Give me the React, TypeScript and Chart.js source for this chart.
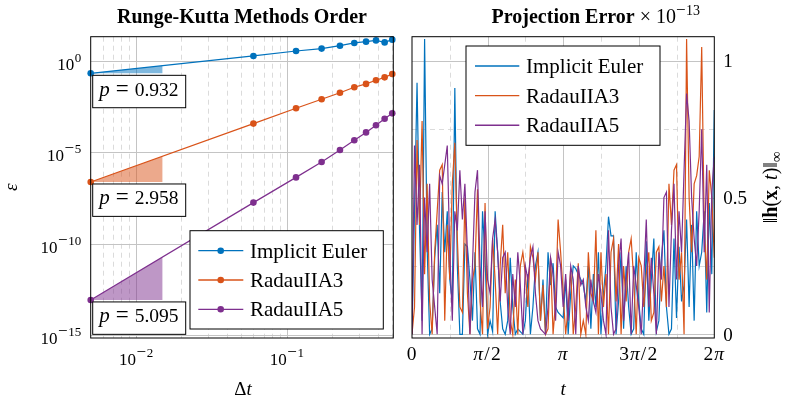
import React, { useEffect, useRef } from "react";
import { Chart, registerables } from "chart.js";

Chart.register(...registerables);

// ---------- Left panel data (log-log convergence) ----------
const stepSizes = [0.005, 0.06, 0.115, 0.17, 0.225, 0.28, 0.335, 0.39, 0.445, 0.5];
const eulerError = [0.204, 1.82, 3.39, 4.57, 6.61, 9.33, 11.0, 12.9, 10.0, 14.1];
const radau3Error = [2.34e-7, 3.63e-4, 2.51e-3, 7.76e-3, 1.78e-2, 3.55e-2, 5.37e-2, 8.51e-2, 0.123, 0.186];
const radau5Error = [8.32e-14, 1.74e-8, 4.17e-7, 2.88e-6, 1.32e-5, 4.47e-5, 1.2e-4, 2.95e-4, 6.76e-4, 1.32e-3];
const orderEstimates = [0.932, 2.958, 5.095];
const slopeTriangleEnd = 0.015;
const leftYTickExps = [0, -5, -10, -15];
const leftXTickExps = [-2, -1];
const methodNames = ["Implicit Euler", "RadauIIA3", "RadauIIA5"];

// ---------- Right panel data (projection error, x 1e-13) ----------
const eulerProj = [
  0.0, 0.45, 0.92, 0.38, 0.05, 1.08, 0.32, 0.0, 0.02, 0.28,
  0.4, 0.15, 0.52, 0.3, 0.45, 0.2, 0.12, 0.9, 0.25, 0.0,
  0.0, 0.33, 0.32, 0.2, 0.05, 0.3, 0.02, 0.0, 0.45, 0.28,
  0.0, 0.05, 0.01, 0.45, 0.3, 0.12, 0.02, 0.0, 0.05, 0.28,
  0.1, 0.0, 0.02, 0.01, 0.0, 0.05, 0.22, 0.0, 0.1, 0.25,
  0.3, 0.05, 0.2, 0.0, 0.3, 0.18, 0.26, 0.1, 0.08, 0.07,
  0.06, 0.2, 0.0, 0.15, 0.25, 0.24, 0.22, 0.2, 0.18, 0.12,
  0.25, 0.02, 0.22, 0.1, 0.3, 0.0, 0.15, 0.25, 0.43, 0.36,
  0.36, 0.0, 0.12, 0.3, 0.02, 0.25, 0.1, 0.0, 0.02, 0.3,
  0.12, 0.02, 0.0, 0.34, 0.05, 0.2, 0.35, 0.01, 0.05, 0.28,
  0.38, 0.1, 0.0, 0.02, 0.35, 0.06, 0.32, 0.12, 0.18, 0.42,
  0.1, 0.4, 0.05, 0.45, 0.25, 0.3, 0.45, 0.08, 0.48, 0.22,
  0.82,
];
const radau3Proj = [
  0.0, 0.1, 0.71, 0.4, 0.78, 0.22, 0.55, 0.12, 0.0, 0.3,
  0.45, 0.6, 0.62, 0.05, 0.4, 0.2, 0.55, 0.7, 0.35, 0.1,
  0.08, 0.5, 0.15, 0.0, 0.2, 0.25, 0.53, 0.12, 0.0, 0.48,
  0.02, 0.1, 0.35, 0.2, 0.0, 0.25, 0.4, 0.15, 0.3, 0.05,
  0.0, 0.2, 0.0, 0.25, 0.3, 0.22, 0.1, 0.32, 0.28, 0.2,
  0.3, 0.05, 0.18, 0.0, 0.02, 0.28, 0.0, 0.12, 0.42, 0.3,
  0.15, 0.0, 0.1, 0.24, 0.0, 0.1, 0.26, 0.0, 0.05, 0.0,
  0.3, 0.15, 0.12, 0.38, 0.0, 0.3, 0.1, 0.22, 0.0, 0.3,
  0.35, 0.12, 0.33, 0.0, 0.25, 0.12, 0.3, 0.35, 0.2, 0.0,
  0.28, 0.25, 0.1, 0.22, 0.3, 0.05, 0.08, 0.3, 0.32, 0.12,
  0.25, 0.1, 0.55, 0.4, 0.6, 0.62, 0.2, 0.3, 0.0, 1.08,
  0.5, 0.3, 0.55, 0.58, 0.65, 1.05, 0.4, 0.2, 0.6, 0.5,
  0.28,
];
const radau5Proj = [
  0.0, 0.69, 0.4, 0.62, 0.0, 0.5, 0.3, 0.55, 0.2, 0.1,
  0.0, 0.58, 0.55, 0.62, 0.69, 0.3, 0.05, 0.45, 0.38, 0.6,
  0.42, 0.55, 0.3, 0.0, 0.25, 0.52, 0.6, 0.25, 0.1, 0.45,
  0.2, 0.15, 0.35, 0.42, 0.3, 0.12, 0.28, 0.3, 0.1, 0.0,
  0.22, 0.1, 0.3, 0.18, 0.0, 0.25, 0.2, 0.28, 0.32, 0.15,
  0.05, 0.02, 0.01, 0.0, 0.1, 0.28, 0.22, 0.05, 0.3, 0.25,
  0.1, 0.22, 0.05, 0.25, 0.2, 0.0, 0.25, 0.18, 0.2, 0.1,
  0.05, 0.2, 0.12, 0.08, 0.22, 0.15, 0.05, 0.0, 0.38, 0.1,
  0.0, 0.02, 0.25, 0.35, 0.05, 0.2, 0.3, 0.0, 0.25, 0.18,
  0.1, 0.0, 0.2, 0.42, 0.1, 0.28, 0.15, 0.0, 0.3, 0.2,
  0.5, 0.52, 0.1, 0.38, 0.55, 0.2, 0.45, 0.3, 0.6, 0.88,
  0.78, 0.5, 0.35, 0.25, 0.45, 0.75, 0.3, 0.62, 0.08, 0.52,
  0.65,
];
const rightXTickValues = [0, Math.PI / 2, Math.PI, (3 * Math.PI) / 2, 2 * Math.PI];
const rightXTickLabels = ["0", "π/2", "π", "3π/2", "2π"];
const rightXMinor = [Math.PI / 4, (3 * Math.PI) / 4, (5 * Math.PI) / 4, (7 * Math.PI) / 4];
const rightYTickValues = [0, 0.5, 1];
const rightYTickLabels = ["0", "0.5", "1"];
const rightYMinor = [0.25, 0.75];

// ---------- styles ----------
const COLORS = ["#0072BD", "#D95319", "#7E2F8E"];
const FILLS = ["rgba(0,114,189,0.5)", "rgba(217,83,25,0.5)", "rgba(126,47,142,0.5)"];
const SERIF = '"Liberation Serif", "DejaVu Serif", serif';
const f = (size: number, style = "") => `${style} ${size}px ${SERIF}`.trim();
const MAJOR_GRID = "#c4c4c4";
const MINOR_GRID = "#d2d2d2";

type Run = { t: string; f: string; dy?: number; gap?: number };

function drawRuns(ctx: CanvasRenderingContext2D, runs: Run[], x: number, y: number, align: "left" | "center" | "right") {
  let w = 0;
  for (const r of runs) {
    ctx.font = r.f;
    w += ctx.measureText(r.t).width + (r.gap || 0);
  }
  let cx = align === "left" ? x : align === "center" ? x - w / 2 : x - w;
  ctx.textAlign = "left";
  ctx.textBaseline = "alphabetic";
  for (const r of runs) {
    ctx.font = r.f;
    ctx.fillText(r.t, cx, y + (r.dy || 0));
    cx += ctx.measureText(r.t).width + (r.gap || 0);
  }
}

function powRuns(exp: number): Run[] {
  const runs: Run[] = [{ t: "10", f: f(17), gap: 0.5 }];
  if (exp < 0) runs.push({ t: "−", f: f(17), dy: -8, gap: 0.5 });
  runs.push({ t: String(Math.abs(exp)), f: f(13), dy: -8 });
  return runs;
}

function piRuns(label: string, size: number): Run[] {
  const runs: Run[] = [];
  for (const ch of label) {
    runs.push({ t: ch, f: ch === "π" ? f(size, "italic") : f(size), gap: ch === "/" ? 1.5 : 1 });
  }
  return runs;
}

function vline(ctx: CanvasRenderingContext2D, x: number, y0: number, y1: number) {
  ctx.beginPath();
  ctx.moveTo(x, y0);
  ctx.lineTo(x, y1);
  ctx.stroke();
}
function hline(ctx: CanvasRenderingContext2D, y: number, x0: number, x1: number) {
  ctx.beginPath();
  ctx.moveTo(x0, y);
  ctx.lineTo(x1, y);
  ctx.stroke();
}

const leftSeries = [eulerError, radau3Error, radau5Error];

function triangleTop(data: number[]) {
  const lx0 = Math.log10(stepSizes[0]);
  const lx1 = Math.log10(stepSizes[1]);
  const ly0 = Math.log10(data[0]);
  const ly1 = Math.log10(data[1]);
  const t = (Math.log10(slopeTriangleEnd) - lx0) / (lx1 - lx0);
  return Math.pow(10, ly0 + (ly1 - ly0) * t);
}

const leftPlugin = {
  id: "leftDecor",
  beforeDatasetsDraw(chart: any) {
    const { ctx, chartArea: a, scales } = chart;
    const x = scales.x;
    const y = scales.y;
    ctx.save();
    ctx.lineWidth = 0.8;
    ctx.strokeStyle = MINOR_GRID;
    ctx.setLineDash([5, 4]);
    for (let d = -3; d <= -1; d++) {
      for (let m = 2; m <= 9; m++) {
        const v = m * Math.pow(10, d);
        if (v <= x.min || v >= x.max) continue;
        vline(ctx, Math.round(x.getPixelForValue(v)) + 0.5, a.top, a.bottom);
      }
    }
    ctx.setLineDash([]);
    ctx.strokeStyle = MAJOR_GRID;
    ctx.lineWidth = 1;
    for (const e of leftXTickExps) {
      vline(ctx, Math.round(x.getPixelForValue(Math.pow(10, e))) + 0.5, a.top, a.bottom);
    }
    for (const e of leftYTickExps) {
      hline(ctx, Math.round(y.getPixelForValue(Math.pow(10, e))) + 0.5, a.left, a.right);
    }
    ctx.restore();
  },
  afterDatasetsDraw(chart: any) {
    const { ctx, chartArea: a, scales } = chart;
    const x = scales.x;
    const y = scales.y;
    ctx.save();
    ctx.strokeStyle = "#000";
    ctx.lineWidth = 1;
    ctx.strokeRect(a.left, a.top, a.right - a.left, a.bottom - a.top);

    // order boxes
    leftSeries.forEach((data, i) => {
      const py = y.getPixelForValue(data[0]);
      const bx = a.left + 2;
      const by = py + 2;
      ctx.fillStyle = "#fff";
      ctx.fillRect(bx, by, 93, 32.4);
      ctx.strokeStyle = "#000";
      ctx.lineWidth = 1;
      ctx.strokeRect(bx, by, 93, 32.4);
      ctx.fillStyle = "#000";
      const base = by + 20.5;
      ctx.textAlign = "left";
      ctx.textBaseline = "alphabetic";
      ctx.font = f(21, "italic");
      ctx.fillText("p", bx + 6.5, base);
      ctx.font = f(23);
      ctx.fillText("=", bx + 23, base);
      ctx.font = f(19.5);
      ctx.fillText(orderEstimates[i].toFixed(3), bx + 42, base);
    });

    // legend
    const lw = 193.3;
    const lh = 98.3;
    const lx = a.right - 10 - lw;
    const ly = a.bottom - 9 - lh;
    ctx.fillStyle = "#fff";
    ctx.fillRect(lx, ly, lw, lh);
    ctx.strokeStyle = "#000";
    ctx.lineWidth = 1;
    ctx.strokeRect(lx, ly, lw, lh);
    methodNames.forEach((name, i) => {
      const ry = ly + 20 + i * 29.3;
      ctx.strokeStyle = COLORS[i];
      ctx.lineWidth = 1.3;
      hline(ctx, ry, lx + 8.3, lx + 53.3);
      ctx.fillStyle = COLORS[i];
      ctx.beginPath();
      ctx.arc(lx + 30.7, ry, 3.3, 0, Math.PI * 2);
      ctx.fill();
      ctx.fillStyle = "#000";
      ctx.font = f(21);
      ctx.textAlign = "left";
      ctx.textBaseline = "alphabetic";
      ctx.fillText(name, lx + 60, ry + 7);
    });

    // tick labels
    ctx.fillStyle = "#000";
    for (const e of leftYTickExps) {
      const py = y.getPixelForValue(Math.pow(10, e));
      drawRuns(ctx, powRuns(e), a.left - 9.5, py + 9, "right");
    }
    for (const e of leftXTickExps) {
      const px = x.getPixelForValue(Math.pow(10, e));
      drawRuns(ctx, powRuns(e), px, a.bottom + 27, "center");
    }

    // titles
    const cx = (a.left + a.right) / 2;
    drawRuns(ctx, [{ t: "Runge-Kutta Methods Order", f: f(20, "bold") }], cx, 23, "center");
    drawRuns(ctx, [{ t: "Δ", f: f(19) }, { t: "t", f: f(19, "italic") }], cx + 1, 395, "center");
    ctx.save();
    ctx.translate(17, (a.top + a.bottom) / 2);
    ctx.rotate(-Math.PI / 2);
    drawRuns(ctx, [{ t: "ε", f: f(19, "italic") }], 0, 0, "center");
    ctx.restore();
    ctx.restore();
  },
};

const rightPlugin = {
  id: "rightDecor",
  beforeDatasetsDraw(chart: any) {
    const { ctx, chartArea: a, scales } = chart;
    const x = scales.x;
    const y = scales.y;
    ctx.save();
    ctx.lineWidth = 0.8;
    ctx.strokeStyle = MINOR_GRID;
    ctx.setLineDash([5, 4]);
    for (const v of rightXMinor) vline(ctx, Math.round(x.getPixelForValue(v)) + 0.5, a.top, a.bottom);
    for (const v of rightYMinor) hline(ctx, Math.round(y.getPixelForValue(v)) + 0.5, a.left, a.right);
    ctx.setLineDash([]);
    ctx.lineWidth = 1;
    ctx.strokeStyle = MAJOR_GRID;
    for (const v of rightXTickValues.slice(1, -1)) vline(ctx, Math.round(x.getPixelForValue(v)) + 0.5, a.top, a.bottom);
    for (const v of rightYTickValues) hline(ctx, Math.round(y.getPixelForValue(v)) + 0.5, a.left, a.right);
    ctx.restore();
  },
  afterDatasetsDraw(chart: any) {
    const { ctx, chartArea: a, scales } = chart;
    const x = scales.x;
    const y = scales.y;
    ctx.save();
    ctx.strokeStyle = "#000";
    ctx.lineWidth = 1;
    ctx.strokeRect(a.left, a.top, a.right - a.left, a.bottom - a.top);

    // legend
    const lx = a.left + 54;
    const ly = a.top + 9.3;
    const lw = 194;
    const lh = 99.3;
    ctx.fillStyle = "#fff";
    ctx.fillRect(lx, ly, lw, lh);
    ctx.strokeStyle = "#000";
    ctx.strokeRect(lx, ly, lw, lh);
    methodNames.forEach((name, i) => {
      const ry = ly + 20 + i * 29.65;
      ctx.strokeStyle = COLORS[i];
      ctx.lineWidth = 1.4;
      hline(ctx, ry, lx + 9, lx + 53.3);
      ctx.fillStyle = "#000";
      ctx.font = f(21);
      ctx.textAlign = "left";
      ctx.textBaseline = "alphabetic";
      ctx.fillText(name, lx + 60, ry + 7);
    });

    // tick labels
    ctx.fillStyle = "#000";
    rightXTickValues.forEach((v, i) => {
      drawRuns(ctx, piRuns(rightXTickLabels[i], 19.5), x.getPixelForValue(v), a.bottom + 22, "center");
    });
    rightYTickValues.forEach((v, i) => {
      drawRuns(ctx, [{ t: rightYTickLabels[i], f: f(19) }], a.right + 9, y.getPixelForValue(v) + 6.5, "left");
    });

    // titles
    const cx = (a.left + a.right) / 2;
    ctx.font = f(20, "bold");
    const tw = ctx.measureText("Projection Error").width;
    drawRuns(ctx, [{ t: "Projection Error", f: f(20, "bold") }], cx, 23, "center");
    drawRuns(
      ctx,
      [
        { t: " × 10", f: f(20) },
        { t: "−", f: f(17), dy: -8, gap: 0.5 },
        { t: "13", f: f(14), dy: -8 },
      ],
      cx + tw / 2,
      23,
      "left"
    );
    drawRuns(ctx, [{ t: "t", f: f(19, "italic") }], cx, 395, "center");
    ctx.save();
    ctx.translate(a.right + 63, (a.top + a.bottom) / 2);
    ctx.rotate(-Math.PI / 2);
    drawRuns(
      ctx,
      [
        { t: "‖", f: f(20) },
        { t: "h", f: f(20, "bold") },
        { t: "(", f: f(20) },
        { t: "x", f: f(20, "bold") },
        { t: ", ", f: f(20) },
        { t: "t", f: f(20, "italic") },
        { t: ")", f: f(20) },
        { t: "‖", f: f(20) },
        { t: "∞", f: f(15), dy: 4 },
      ],
      0,
      0,
      "center"
    );
    ctx.restore();
    ctx.restore();
  },
};

function makeLeft(canvas: HTMLCanvasElement) {
  const lines = leftSeries.map((data, i) => ({
    type: "line" as const,
    label: methodNames[i],
    data: stepSizes.map((s, j) => ({ x: s, y: data[j] })),
    borderColor: COLORS[i],
    backgroundColor: COLORS[i],
    pointBackgroundColor: COLORS[i],
    borderWidth: 1.2,
    pointRadius: 3.3,
    pointBorderWidth: 0,
    pointHoverRadius: 3.3,
    fill: false,
    tension: 0,
    clip: false as any,
    order: 3 - i,
  }));
  const tris = leftSeries.map((data, i) => ({
    type: "line" as const,
    label: "tri" + i,
    data: [
      { x: stepSizes[0], y: data[0] },
      { x: slopeTriangleEnd, y: triangleTop(data) },
    ],
    borderWidth: 0,
    borderColor: "rgba(0,0,0,0)",
    backgroundColor: FILLS[i],
    pointRadius: 0,
    fill: { target: { value: data[0] }, above: FILLS[i], below: FILLS[i] },
    tension: 0,
    order: 10,
  }));
  return new Chart(canvas, {
    type: "line",
    data: { datasets: [...lines, ...tris] as any },
    options: {
      responsive: false,
      animation: false,
      events: [],
      layout: { padding: { left: 90.7, top: 36.7, right: 6.7, bottom: 60 } },
      plugins: { legend: { display: false }, title: { display: false }, tooltip: { enabled: false } },
      scales: {
        x: { type: "logarithmic", min: 0.005, max: 0.508, display: false },
        y: { type: "logarithmic", min: 6.9e-16, max: 20.5, display: false },
      },
    },
    plugins: [leftPlugin],
  });
}

function makeRight(canvas: HTMLCanvasElement) {
  const n = eulerProj.length;
  const tAt = (i: number) => (i * 2 * Math.PI) / (n - 1);
  const series = [eulerProj, radau3Proj, radau5Proj];
  const datasets = series.map((data, i) => ({
    type: "line" as const,
    label: methodNames[i],
    data: data.map((v, j) => ({ x: tAt(j), y: v })),
    borderColor: COLORS[i],
    backgroundColor: COLORS[i],
    borderWidth: 1.2,
    pointRadius: 0,
    fill: false,
    tension: 0,
    order: 2 - i,
  }));
  return new Chart(canvas, {
    type: "line",
    data: { datasets: datasets as any },
    options: {
      responsive: false,
      animation: false,
      events: [],
      layout: { padding: { left: 12, top: 36.7, right: 70.7, bottom: 60 } },
      plugins: { legend: { display: false }, title: { display: false }, tooltip: { enabled: false } },
      scales: {
        x: { type: "linear", min: 0, max: 2 * Math.PI, display: false },
        y: { type: "linear", min: -0.0135, max: 1.088, display: false },
      },
    },
    plugins: [rightPlugin],
  });
}

export default function App() {
  const leftRef = useRef<HTMLCanvasElement>(null);
  const rightRef = useRef<HTMLCanvasElement>(null);
  useEffect(() => {
    const c1 = makeLeft(leftRef.current!);
    const c2 = makeRight(rightRef.current!);
    return () => {
      c1.destroy();
      c2.destroy();
    };
  }, []);
  return (
    <div style={{ position: "absolute", left: 0, top: 0, width: 785, height: 398, background: "#fff" }}>
      <canvas ref={leftRef} width={400} height={398} style={{ position: "absolute", left: 0, top: 0, width: 400, height: 398 }} />
      <canvas ref={rightRef} width={385} height={398} style={{ position: "absolute", left: 400, top: 0, width: 385, height: 398 }} />
    </div>
  );
}
